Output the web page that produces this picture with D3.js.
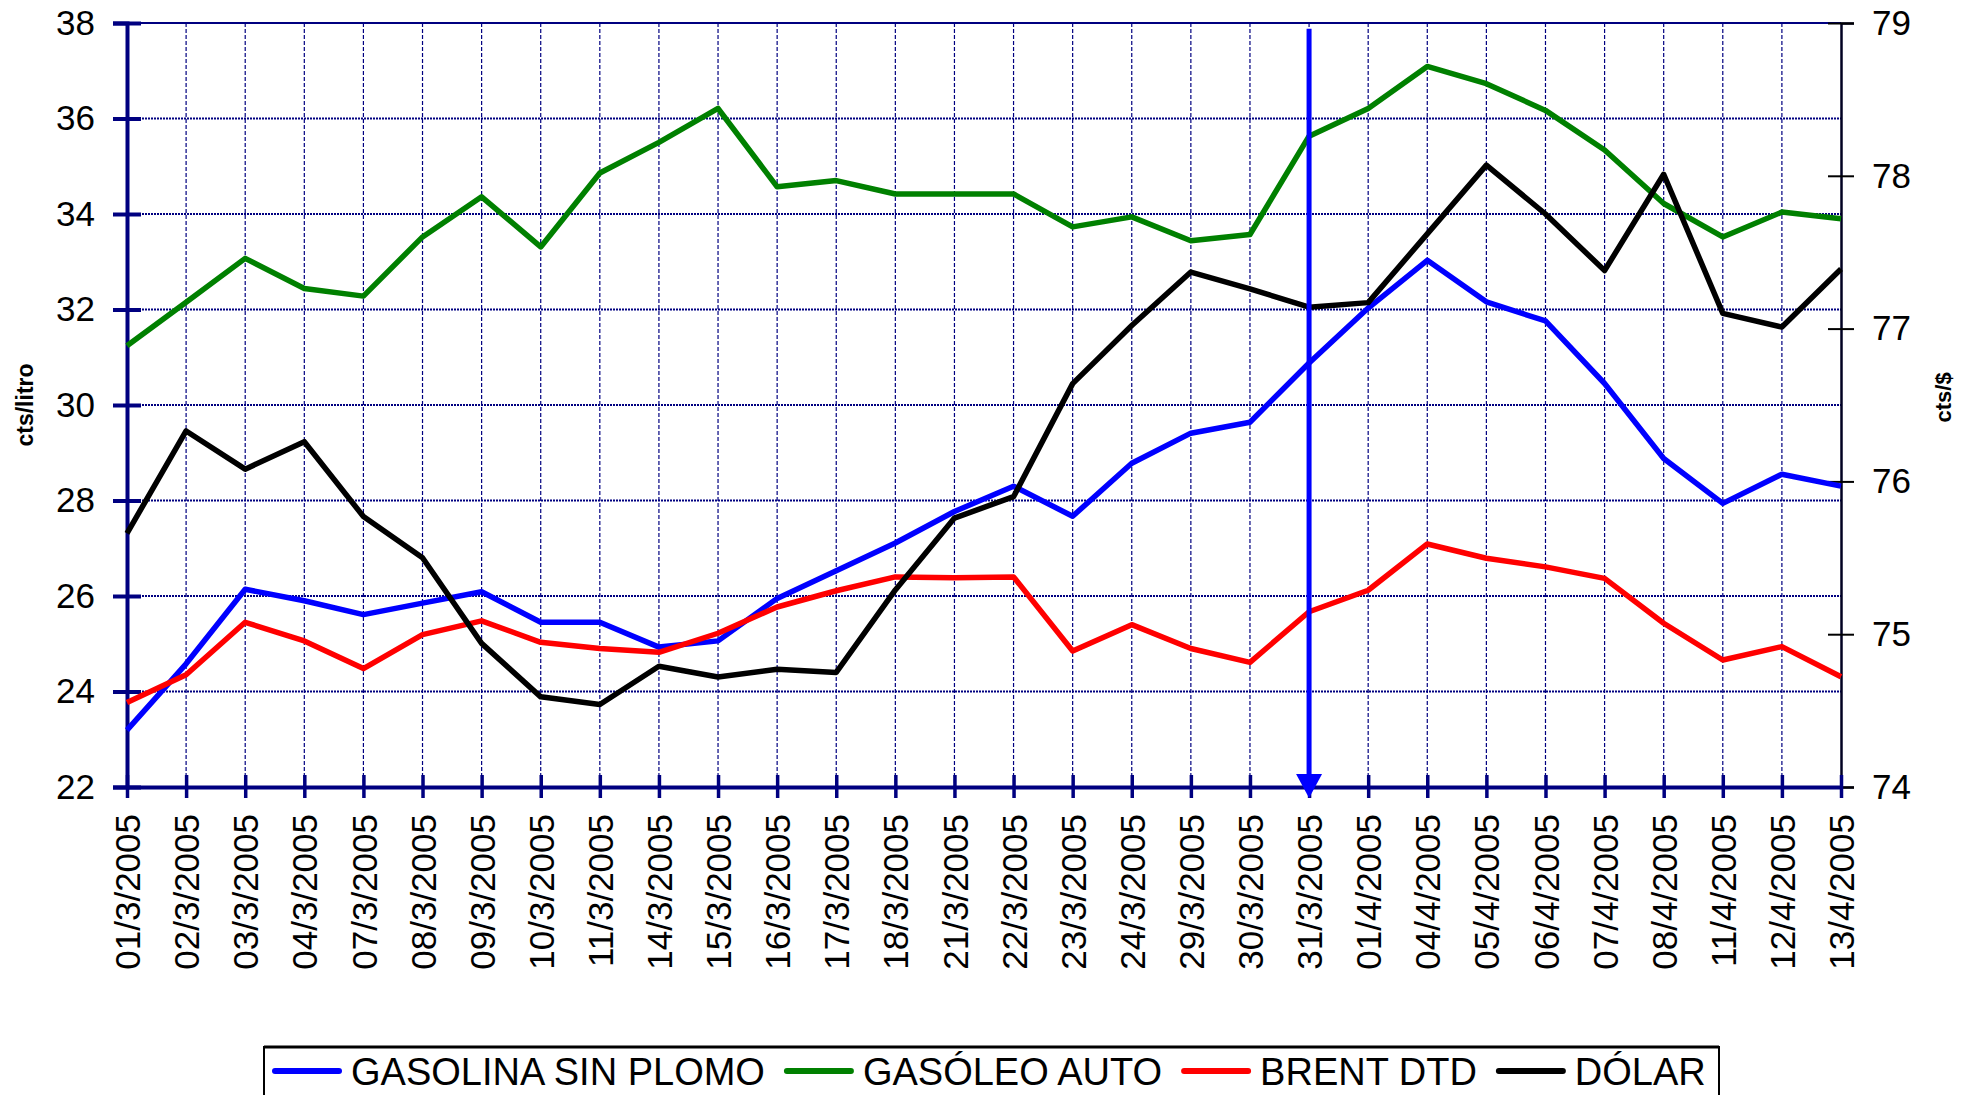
<!DOCTYPE html>
<html>
<head>
<meta charset="utf-8">
<script src="https://d3js.org/d3.v7.min.js"></script>
<style>
  body { margin: 0; background: #fff; }
  svg text { font-family: "Liberation Sans", Arial, sans-serif; }
</style>
</head>
<body>
<svg id="chart" width="1973" height="1095"></svg>
<script>
// categories
const dates = ["01/3/2005","02/3/2005","03/3/2005","04/3/2005","07/3/2005","08/3/2005","09/3/2005",
  "10/3/2005","11/3/2005","14/3/2005","15/3/2005","16/3/2005","17/3/2005","18/3/2005","21/3/2005",
  "22/3/2005","23/3/2005","24/3/2005","29/3/2005","30/3/2005","31/3/2005","01/4/2005","04/4/2005",
  "05/4/2005","06/4/2005","07/4/2005","08/4/2005","11/4/2005","12/4/2005","13/4/2005"];

// series (cts/litro, left axis)
const gasolina = [23.19,24.58,26.14,25.90,25.61,25.85,26.09,25.45,25.45,24.93,25.06,25.95,26.53,27.11,27.77,
  28.30,27.67,28.78,29.41,29.64,30.88,32.03,33.03,32.16,31.76,30.45,28.88,27.94,28.55,28.30];
const gasoleo = [31.24,32.15,33.07,32.44,32.28,33.52,34.36,33.31,34.86,35.50,36.21,34.57,34.70,34.42,34.42,
  34.42,33.73,33.94,33.44,33.57,35.63,36.21,37.09,36.73,36.17,35.34,34.22,33.52,34.04,33.90];
const brent = [23.77,24.35,25.45,25.06,24.48,25.19,25.48,25.03,24.90,24.82,25.22,25.77,26.11,26.40,26.38,
  26.40,24.85,25.40,24.90,24.61,25.67,26.12,27.09,26.79,26.61,26.37,25.43,24.66,24.94,24.31];
// cts/$ (right axis)
const dolar = [75.66,76.33,76.08,76.26,75.77,75.50,74.94,74.59,74.54,74.79,74.72,74.77,74.75,75.29,75.76,
  75.90,76.64,77.02,77.37,77.26,77.14,77.17,77.62,78.07,77.75,77.38,78.01,77.10,77.01,77.39];

const leftTicks = [22,24,26,28,30,32,34,36,38];
const rightTicks = [74,75,76,77,78,79];
const markerDate = "31/3/2005";

const names = ["GASOLINA SIN PLOMO","GASÓLEO AUTO","BRENT DTD","DÓLAR"];
const colors = ["#0000ff","#008000","#ff0000","#000000"];

const navy = "#000080";
const svg = d3.select("#chart");

const margin = {top: 23, right: 132, bottom: 308, left: 127};
const W = 1973, H = 1095;
const plotW = W - margin.left - margin.right;
const plotH = H - margin.top - margin.bottom;

const x = d3.scalePoint().domain(dates).range([0, plotW]);
const yL = d3.scaleLinear().domain([22, 38]).range([plotH, 0]);
const yR = d3.scaleLinear().domain([74, 79]).range([plotH, 0]);

const g = svg.append("g").attr("transform", "translate(" + margin.left + "," + margin.top + ")");

//////////
// grid //
//////////
g.append("g").selectAll("line")
  .data(dates.slice(1, -1))
  .join("line")
  .attr("x1", d => x(d)).attr("x2", d => x(d))
  .attr("y1", 0).attr("y2", plotH)
  .attr("stroke", navy).attr("stroke-width", 1.2)
  .attr("stroke-dasharray", "4,2");

g.append("g").selectAll("line")
  .data(leftTicks.slice(1))
  .join("line")
  .attr("x1", 0).attr("x2", plotW)
  .attr("y1", d => yL(d)).attr("y2", d => yL(d))
  .attr("stroke", navy).attr("stroke-width", d => d === 38 ? 2.2 : 2)
  .attr("stroke-dasharray", d => d === 38 ? null : "2,1");

//////////
// axes //
//////////
const fontTick = "35px";

const axL = g.append("g")
  .call(d3.axisLeft(yL).tickValues(leftTicks).tickSize(14).tickPadding(18).tickFormat(d3.format("d")));
axL.select(".domain").attr("stroke", navy).attr("stroke-width", 4);
axL.selectAll(".tick line").attr("x1", 14).attr("stroke", navy).attr("stroke-width", 4);
axL.selectAll("text").style("font-size", fontTick).attr("fill", "#000");

const axR = g.append("g")
  .attr("transform", "translate(" + plotW + ",0)")
  .call(d3.axisRight(yR).tickValues(rightTicks).tickSize(13).tickPadding(18).tickFormat(d3.format("d")));
axR.select(".domain").attr("stroke", "#000022").attr("stroke-width", 2.5);
axR.selectAll(".tick line").attr("x1", -13).attr("stroke", "#000").attr("stroke-width", 2);
axR.selectAll("text").style("font-size", fontTick).attr("fill", "#000");

const axB = g.append("g")
  .attr("transform", "translate(0," + plotH + ")")
  .call(d3.axisBottom(x).tickSize(11).tickSizeOuter(0));
axB.select(".domain").attr("stroke", navy).attr("stroke-width", 4);
axB.selectAll(".tick line").attr("y1", -12).attr("stroke", navy).attr("stroke-width", 3.5);
axB.selectAll("text")
  .style("font-size", fontTick)
  .attr("fill", "#000")
  .attr("text-anchor", "end")
  .attr("transform", "rotate(-90)")
  .attr("x", -27)
  .attr("y", 0)
  .attr("dy", "0.36em");

// axis titles
svg.append("text")
  .attr("transform", "translate(33," + (margin.top + yL(30)) + ") rotate(-90)")
  .attr("text-anchor", "middle")
  .style("font-size", "23px").style("font-weight", "bold")
  .text("cts/litro");

svg.append("text")
  .attr("transform", "translate(1951," + (margin.top + yR(76.55)) + ") rotate(-90)")
  .attr("text-anchor", "middle")
  .style("font-size", "22px").style("font-weight", "bold")
  .text("cts/$");

///////////
// lines //
///////////
const seriesList = [
  {values: gasolina, y: yL, color: colors[0]},
  {values: gasoleo, y: yL, color: colors[1]},
  {values: brent, y: yL, color: colors[2]},
  {values: dolar, y: yR, color: colors[3]}
];

seriesList.forEach(s => {
  const line = d3.line()
    .x((d, i) => x(dates[i]))
    .y(d => s.y(d));
  g.append("path")
    .datum(s.values)
    .attr("d", line)
    .attr("fill", "none")
    .attr("stroke", s.color)
    .attr("stroke-width", 5.5)
    .attr("stroke-linejoin", "round");
});

// marker arrow at 31/3/2005
const ax = x(markerDate);
const tipY = yL(22) + 11;
g.append("line")
  .attr("x1", ax).attr("x2", ax)
  .attr("y1", yL(37.88)).attr("y2", tipY - 20)
  .attr("stroke", "#0000ff").attr("stroke-width", 5);
g.append("path")
  .attr("d", d3.line()([[ax - 13, tipY - 24], [ax + 13, tipY - 24], [ax, tipY]]) + "Z")
  .attr("fill", "#0000ff");

////////////
// legend //
////////////
const legend = svg.append("g");
const boxX = 264, boxY = 1047, boxW = 1455;
legend.append("rect")
  .attr("x", boxX).attr("y", boxY).attr("width", boxW).attr("height", 80)
  .attr("fill", "#fff").attr("stroke", "#000").attr("stroke-width", 2);
legend.append("line")
  .attr("x1", boxX).attr("x2", boxX + boxW).attr("y1", boxY).attr("y2", boxY)
  .attr("stroke", "#000").attr("stroke-width", 3);

let cx = 275;
names.forEach((n, i) => {
  legend.append("line")
    .attr("x1", cx).attr("x2", cx + 64)
    .attr("y1", 1071).attr("y2", 1071)
    .attr("stroke", colors[i]).attr("stroke-width", 6)
    .attr("stroke-linecap", "round");
  const t = legend.append("text")
    .attr("x", cx + 76).attr("y", 1085)
    .style("font-size", "38px")
    .text(n);
  cx += 76 + t.node().getComputedTextLength() + 22;
});
</script>
</body>
</html>
